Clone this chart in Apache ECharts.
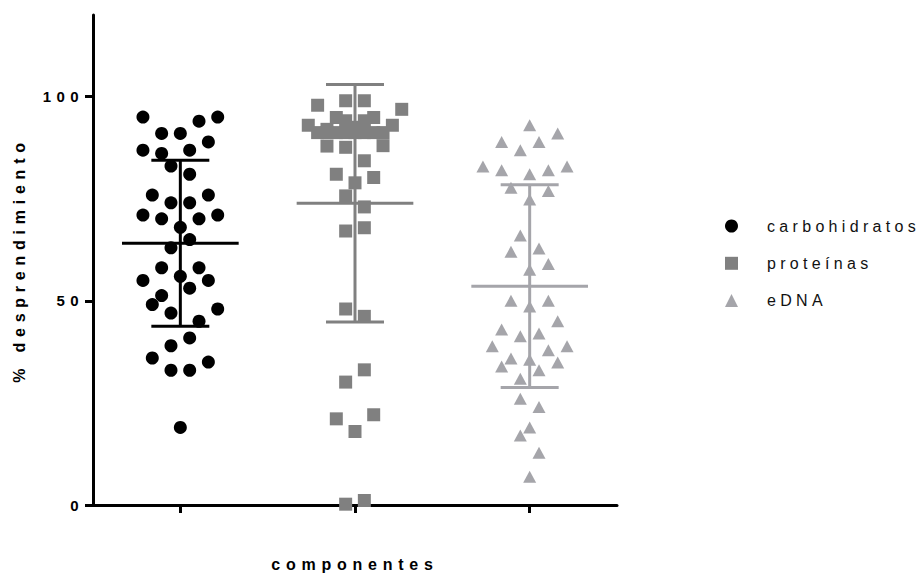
<!DOCTYPE html>
<html><head><meta charset="utf-8">
<script src="https://cdn.jsdelivr.net/npm/echarts@6/dist/echarts.min.js"></script>
<style>
html,body{margin:0;padding:0;background:#fff}
#chart{width:924px;height:575px}
#chart text{letter-spacing:0.27em}
#chart text[style*="bold"]{letter-spacing:0.36em}
</style>
</head><body><div id="chart"></div>
<script>
const categories = ['carbohidratos', 'proteínas', 'eDNA'];
const xTitle = 'componentes';
const yTitle = '% desprendimiento';
const yTicks = [0, 50, 100];

const carbValues = [95.0, 95.0, 94.0, 91.0, 91.0, 88.9, 86.9, 86.1, 86.9, 83.0, 81.0, 75.9, 75.9, 74.0, 74.0, 71.0, 70.1, 70.1, 71.0, 68.0, 65.0, 63.0, 58.1, 58.1, 56.0, 55.0, 55.0, 53.1, 51.3, 49.1, 47.0, 48.0, 45.0, 40.9, 39.0, 36.0, 35.0, 33.0, 33.0, 19.0];
const carbLanes  = [-4, 4, 2, -2, 0, 3, -4, -2, 1, -1, 1, -3, 3, -1, 1, -4, -2, 2, 4, 0, 1, -1, -2, 2, 0, -4, 3, 1, -2, -3, -1, 4, 2, 1, -1, -3, 3, -1, 1, 0];

const protValues = [97.9, 99.0, 99.0, 96.9, 94.9, 94.9, 94.1, 94.1, 93.0, 93.0, 91.2, 91.2, 91.2, 91.2, 91.2, 91.2, 91.2, 91.2, 92.5, 92.0, 87.9, 87.6, 88.0, 84.3, 81.0, 80.2, 78.9, 75.7, 73.0, 67.1, 67.9, 48.0, 46.2, 33.1, 30.1, 21.1, 22.1, 18.0, 0.2, 1.1];
const protLanes  = [-4, -1, 1, 5, -2, 2, -1, 1, -5, 4, -4, -3, -2, -1, 0, 1, 2, 3, 0, -3, -3, -1, 3, 1, -2, 2, 0, -1, 1, -1, 1, -1, 1, 1, -1, -2, 2, 0, -1, 1];

const dnaValues = [93.0, 91.0, 88.9, 88.9, 86.9, 82.9, 82.0, 81.0, 82.0, 82.9, 77.7, 76.9, 74.8, 66.0, 62.0, 62.8, 59.0, 57.6, 50.0, 50.0, 48.6, 45.0, 43.0, 41.3, 42.0, 38.9, 38.9, 37.9, 35.9, 35.6, 34.9, 33.9, 33.0, 30.9, 26.0, 24.0, 19.0, 17.0, 12.8, 6.9];
const dnaLanes  = [0, 3, -3, 1, -1, -5, -3, 0, 2, 4, -2, 2, 0, -1, -2, 1, 2, 0, -2, 2, 0, 3, -3, -1, 1, -4, 4, 2, -2, 0, 3, -3, 1, -1, -1, 1, 0, -1, 1, 0];

const means = [64.1, 73.9, 53.6];
const sds   = [20.35, 29.1, 24.8];

// layout / style constants
const LANE = 0.0535;      // horizontal jitter step in category units
const MEAN_HALF = 0.334;  // half width of mean line
const CAP_HALF = 0.166;   // half width of SD caps
const colors = ['#000000', '#808080', '#a5a5aa'];
const symbols = ['circle', 'rect', 'triangle'];
const symbolSizes = [13, 13, [13, 12]];
const FONT = 'Liberation Sans, Arial, sans-serif';

const groups = [
  [carbValues, carbLanes],
  [protValues, protLanes],
  [dnaValues, dnaLanes]
];

const series = [];
groups.forEach(([vals, lanes], g) => {
  series.push({
    name: categories[g],
    type: 'scatter',
    symbol: symbols[g],
    symbolSize: symbolSizes[g],
    itemStyle: { color: colors[g], opacity: 1 },
    emphasis: { disabled: true },
    data: vals.map((v, i) => [g + 1 + lanes[i] * LANE, v]),
    z: 2
  });
});
groups.forEach((_, g) => {
  series.push({
    name: categories[g] + ' media±DE',
    type: 'custom',
    z: 3,
    data: [[g + 1, means[g], sds[g]]],
    renderItem: function (params, api) {
      const x = api.value(0), m = api.value(1), s = api.value(2);
      const c = api.coord([x, m]);
      const t = api.coord([x, m + s]);
      const b = api.coord([x, m - s]);
      const mh = api.size([MEAN_HALF, 0])[0];
      const ch = api.size([CAP_HALF, 0])[0];
      const st = { stroke: colors[g], lineWidth: 3 };
      return {
        type: 'group',
        children: [
          { type: 'line', shape: { x1: c[0], y1: t[1], x2: c[0], y2: b[1] }, style: st },
          { type: 'line', shape: { x1: c[0] - ch, y1: t[1], x2: c[0] + ch, y2: t[1] }, style: st },
          { type: 'line', shape: { x1: c[0] - ch, y1: b[1], x2: c[0] + ch, y2: b[1] }, style: st },
          { type: 'line', shape: { x1: c[0] - mh, y1: c[1], x2: c[0] + mh, y2: c[1] }, style: st }
        ]
      };
    }
  });
});

const chart = echarts.init(document.getElementById('chart'), null, { renderer: 'svg' });
chart.setOption({
  animation: false,
  backgroundColor: '#ffffff',
  textStyle: { fontFamily: FONT },
  grid: { left: 93, right: 307, top: 15, bottom: 70, containLabel: false, outerBoundsMode: 'none' },
  xAxis: {
    type: 'value',
    min: 0.5,
    max: 3.5,
    name: xTitle,
    nameLocation: 'middle',
    nameGap: 51,
    nameTextStyle: { fontFamily: FONT, fontSize: 16, fontWeight: 'bold', color: '#000' },
    axisLine: { show: true, onZero: false, lineStyle: { color: '#000', width: 3 } },
    axisTick: { show: true, length: 8, lineStyle: { color: '#000', width: 3 }, customValues: [1, 2, 3] },
    axisLabel: { show: false },
    splitLine: { show: false }
  },
  yAxis: {
    type: 'value',
    min: 0,
    max: 120,
    name: yTitle,
    nameLocation: 'middle',
    nameGap: 66,
    nameTextStyle: { fontFamily: FONT, fontSize: 16, fontWeight: 'bold', color: '#000' },
    axisLine: { show: true, lineStyle: { color: '#000', width: 3 } },
    axisTick: { show: true, length: 8, lineStyle: { color: '#000', width: 3 }, customValues: yTicks },
    axisLabel: { fontFamily: FONT, fontSize: 15, fontWeight: 'bold', color: '#000', margin: 9, customValues: yTicks },
    splitLine: { show: false }
  },
  legend: {
    orient: 'vertical',
    left: 725,
    top: 218,
    padding: 0,
    itemWidth: 13,
    itemHeight: 13,
    itemGap: 21.3,
    selectedMode: false,
    data: categories.map((c, i) => ({ name: c, icon: symbols[i], itemStyle: { color: colors[i] } })),
    textStyle: { fontFamily: FONT, fontSize: 16, color: '#111', lineHeight: 16, padding: [0, 0, 0, 24] }
  },
  series: series
});
</script></body></html>
